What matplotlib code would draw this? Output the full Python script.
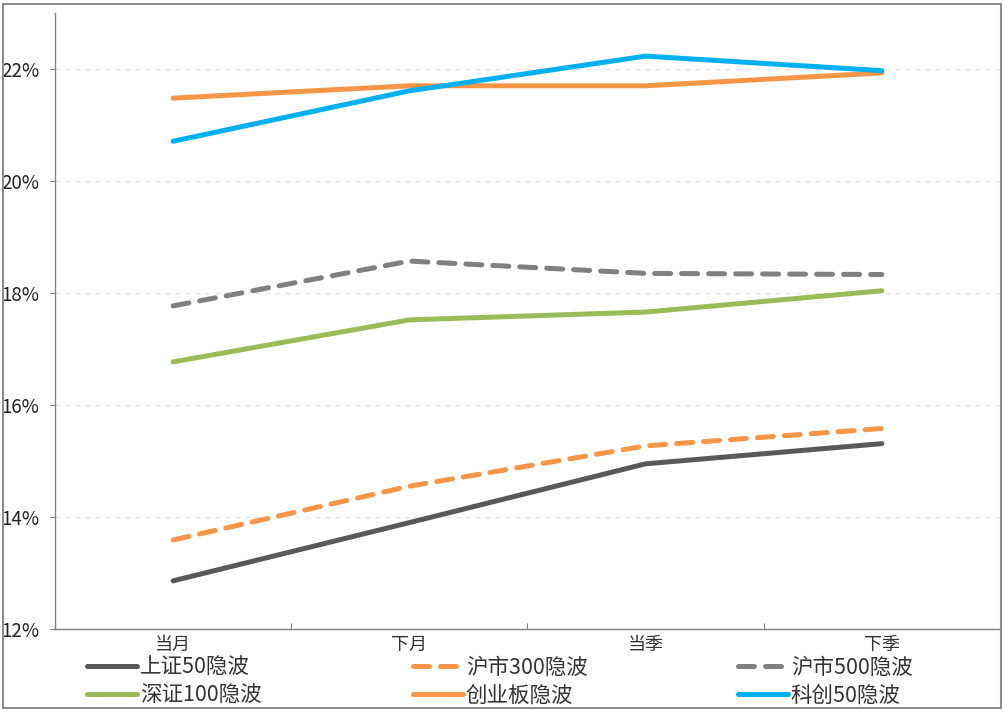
import matplotlib
matplotlib.use("Agg")
import matplotlib.pyplot as plt
from matplotlib.patches import Rectangle
from matplotlib.ticker import FixedLocator, FuncFormatter

plt.rcParams['font.family'] = ['Noto Sans CJK SC', 'DejaVu Sans']

categories = ['当月', '下月', '当季', '下季']
sz50 = [12.86, 13.90, 14.95, 15.31]
hs300 = [13.59, 14.55, 15.27, 15.58]
hs500 = [17.77, 18.57, 18.35, 18.33]
sz100 = [16.77, 17.52, 17.66, 18.04]
cyb = [21.48, 21.70, 21.70, 21.93]
kc50 = [20.71, 21.61, 22.23, 21.97]

series = [
    ('上证50隐波', sz50, '#595959', '-'),
    ('沪市300隐波', hs300, '#F79646', '--'),
    ('沪市500隐波', hs500, '#808080', '--'),
    ('深证100隐波', sz100, '#9BBB59', '-'),
    ('创业板隐波', cyb, '#F79646', '-'),
    ('科创50隐波', kc50, '#00B0F0', '-'),
]

W, H = 1004, 712
fig = plt.figure(figsize=(W / 100, H / 100), dpi=100)
ax = fig.add_axes([55 / W, 1 - 629 / H, (1000 - 55) / W, (629 - 13) / H])

x = list(range(len(categories)))
handles = []
for name, vals, color, ls in series:
    kw = dict(color=color, lw=3.6, solid_capstyle='round', dash_capstyle='round')
    if ls == '--':
        kw['dashes'] = (3.2, 2.2)
    ln, = ax.plot(x, vals, label=name, **kw)
    handles.append(ln)

ax.set_xlim(-0.5, 3.5)
ax.set_ylim(12, 23)
ax.yaxis.set_major_locator(FixedLocator([12, 14, 16, 18, 20, 22]))
ax.yaxis.set_major_formatter(FuncFormatter(lambda v, p: f'{v:.0f}%'))
ax.grid(axis='y', color='#E6E6E6', linestyle=(0, (4, 4)), lw=0.9)
ax.set_axisbelow(True)

ax.xaxis.set_major_locator(FixedLocator([0.5, 1.5, 2.5]))
ax.xaxis.set_major_formatter(FuncFormatter(lambda v, p: ''))
ax.xaxis.set_minor_locator(FixedLocator(x))
ax.set_xticklabels(categories, minor=True)
ax.tick_params(axis='x', which='major', direction='in', length=4, color='#808080')
ax.tick_params(axis='x', which='minor', length=0, pad=5, labelsize=13, labelcolor='#333333')
ax.tick_params(axis='y', which='major', direction='out', length=3.5, color='#808080',
               pad=8, labelsize=13.5, labelcolor='#222222')

for s in ['top', 'right']:
    ax.spines[s].set_visible(False)
for s in ['left', 'bottom']:
    ax.spines[s].set_color('#808080')
    ax.spines[s].set_linewidth(1.0)

# legend: 3 columns, 2 rows, placed manually
cols = [(handles[0], handles[3]), (handles[1], handles[4]), (handles[2], handles[5])]
col_x = [87, 413, 738]
for cx, pair in zip(col_x, cols):
    leg = fig.legend(handles=list(pair), labels=[h.get_label() for h in pair],
                     loc='upper left', bbox_to_anchor=(cx / W, 1 - 657 / H),
                     frameon=False, fontsize=15.5, handlelength=2.3,
                     handletextpad=0.15, labelspacing=0.25, borderpad=0,
                     borderaxespad=0)
    for t in leg.get_texts():
        t.set_color('#333333')

fig.add_artist(Rectangle((3 / W, 4 / H), (1001 - 3) / W, (708 - 4) / H,
                         transform=fig.transFigure, fill=False,
                         edgecolor='#8C8C8C', lw=1.5))

fig.savefig('out.png', dpi=100)
